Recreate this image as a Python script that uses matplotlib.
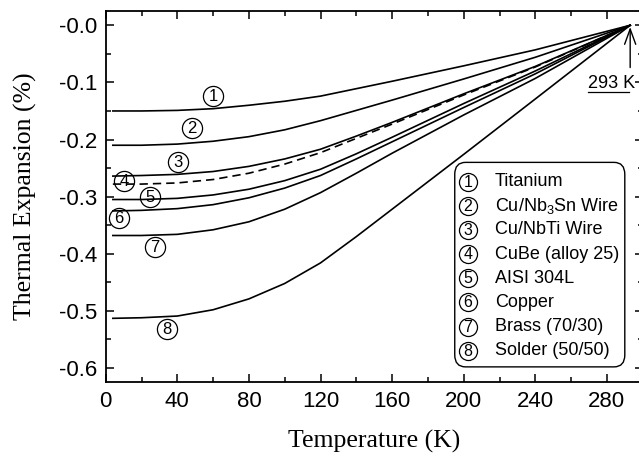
import matplotlib
matplotlib.use("Agg")
import matplotlib.pyplot as plt
from matplotlib.patches import FancyBboxPatch
from matplotlib.ticker import MultipleLocator, FixedLocator, FixedFormatter

plt.rcParams['font.family'] = ['Liberation Sans', 'DejaVu Sans']
plt.rcParams['mathtext.fontset'] = 'custom'
plt.rcParams['mathtext.rm'] = 'Liberation Sans'
plt.rcParams['mathtext.default'] = 'regular'

# temperature grid (K) and thermal expansion (%)
temp = [4, 20, 40, 60, 80, 100, 120, 140, 160, 200, 240, 293]
titanium = [-0.150, -0.150, -0.149, -0.146, -0.140, -0.133, -0.124, -0.111, -0.098, -0.071, -0.043, 0.0]
nb3sn = [-0.210, -0.210, -0.208, -0.203, -0.195, -0.183, -0.167, -0.149, -0.131, -0.094, -0.056, 0.0]
nbti = [-0.264, -0.263, -0.261, -0.256, -0.247, -0.234, -0.217, -0.194, -0.170, -0.120, -0.072, 0.0]
cube = [-0.278, -0.278, -0.276, -0.270, -0.259, -0.243, -0.223, -0.198, -0.173, -0.122, -0.073, 0.0]
aisi = [-0.305, -0.305, -0.303, -0.297, -0.287, -0.272, -0.252, -0.225, -0.196, -0.137, -0.080, 0.0]
copper = [-0.325, -0.324, -0.321, -0.314, -0.302, -0.285, -0.263, -0.234, -0.204, -0.144, -0.085, 0.0]
brass = [-0.368, -0.368, -0.366, -0.358, -0.344, -0.322, -0.293, -0.259, -0.224, -0.157, -0.093, 0.0]
solder = [-0.513, -0.512, -0.509, -0.498, -0.479, -0.452, -0.416, -0.370, -0.322, -0.226, -0.129, 0.0]

curves = [titanium, nb3sn, nbti, cube, aisi, copper, brass, solder]
names = ['Titanium', 'Cu/Nb$_3$Sn Wire', 'Cu/NbTi Wire', 'CuBe (alloy 25)',
         'AISI 304L', 'Copper', 'Brass (70/30)', 'Solder (50/50)']
# circled number labels on the curves
lab_x = [60, 48, 40.5, 10.5, 25, 7.5, 27.5, 34]
lab_y = [-0.124, -0.180, -0.240, -0.273, -0.300, -0.337, -0.388, -0.532]

fig = plt.figure(figsize=(6.39, 4.59), dpi=100)
ax = fig.add_axes([105.7 / 639, 1 - 382.3 / 459, 537 / 639, 371.3 / 459])

for i, c in enumerate(curves):
    ls = (0, (5, 3)) if i == 3 else '-'
    ax.plot(temp, c, color='black', lw=1.2, ls=ls)

for i in range(8):
    ax.plot(lab_x[i], lab_y[i], marker='o', ms=14.5, mfc='none', mec='black', mew=0.9)
    ax.text(lab_x[i], lab_y[i] - 0.001, str(i + 1), ha='center', va='center', fontsize=12)

# legend box drawn by hand
box = FancyBboxPatch((195, -0.598), 95, 0.358, boxstyle='round,pad=0,rounding_size=6',
                     fc='white', ec='black', lw=1.0, mutation_aspect=0.0035, zorder=3)
ax.add_patch(box)
for i in range(8):
    yy = -(156 + 24.1 * i) / 570
    ax.plot(202.3, yy, marker='o', ms=13, mfc='none', mec='black', mew=0.9, zorder=4)
    ax.text(202.3, yy - 0.001, str(i + 1), ha='center', va='center', fontsize=11.5, zorder=4)
    ax.text(217.5, yy, names[i], ha='left', va='center', fontsize=13, zorder=4)

# 293 K marker
ax.annotate('', xy=(293, -0.003), xytext=(293, -0.074),
            arrowprops=dict(arrowstyle='->,head_length=1.1,head_width=0.4', color='black', lw=1.0,
                            shrinkA=0, shrinkB=0))
ax.text(269.5, -0.102, '293 K', ha='left', va='center', fontsize=13)
ax.plot([269.5, 292.5], [-0.117, -0.117], color='black', lw=0.9)

ax.set_xlim(0, 300)
ax.set_ylim(-0.625, 0.025)
ax.xaxis.set_major_locator(FixedLocator([0, 40, 80, 120, 160, 200, 240, 280]))
ax.xaxis.set_minor_locator(MultipleLocator(20))
yt = [0, -0.1, -0.2, -0.3, -0.4, -0.5, -0.6]
ax.yaxis.set_major_locator(FixedLocator(yt))
ax.yaxis.set_major_formatter(FixedFormatter(['-0.0', '-0.1', '-0.2', '-0.3', '-0.4', '-0.5', '-0.6']))
ax.yaxis.set_minor_locator(MultipleLocator(0.05))
ax.tick_params(which='both', direction='in', top=True, right=True, labelsize=16, width=1.1)
ax.tick_params(which='major', length=6, pad=6)
ax.tick_params(which='minor', length=3.5)
for s in ax.spines.values():
    s.set_linewidth(1.3)

ax.set_xlabel('Temperature (K)', family='Liberation Serif', fontsize=18.5, labelpad=13)
ax.set_ylabel('Thermal Expansion (%)', family='Liberation Serif', fontsize=18.5, labelpad=16)

fig.savefig('out.png', dpi=100)
